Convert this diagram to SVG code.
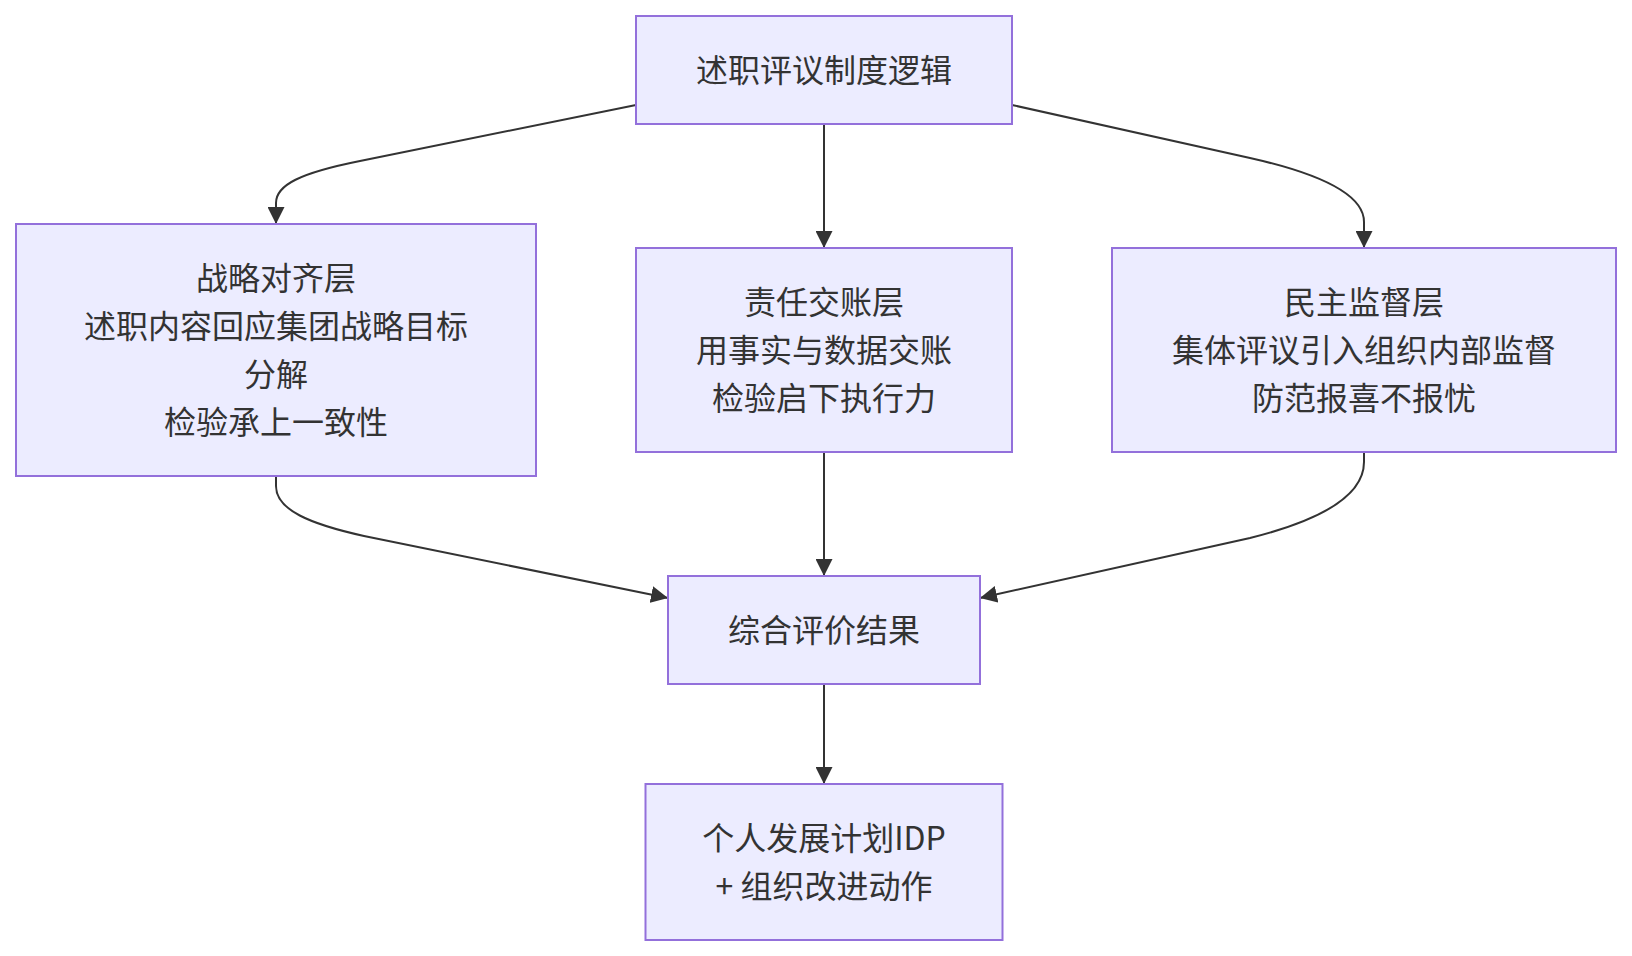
<svg xmlns="http://www.w3.org/2000/svg" width="1632" height="956" viewBox="0 0 1632 956">
<style>
.node rect{fill:#ECECFF;stroke:#9370DB;stroke-width:2}
.node text{font-family:"Noto Sans CJK SC","Noto Sans",sans-serif;font-size:32px;fill:#333333;text-anchor:middle;dominant-baseline:central}
.edges path{fill:none;stroke:#333333;stroke-width:2;marker-end:url(#arrow)}
</style>
<defs>
<marker id="arrow" viewBox="0 0 10 10" refX="10" refY="5" markerUnits="userSpaceOnUse" markerWidth="17" markerHeight="17" orient="auto">
<path d="M0,0 L10,5 L0,10 z" fill="#333333"/>
</marker>
</defs>
<rect width="1632" height="956" fill="#ffffff"/>
<g class="edges">
<path d="M636,105 L360,161 C300,173 276,185 276,203 L276,224"/>
<path d="M824,124 L824,248"/>
<path d="M1012,105 L1250,158 C1330,176 1364,198 1364,222 L1364,248"/>
<path d="M276,476 L276,486 C276,510 310,524 364,536 L668,598"/>
<path d="M824,452 L824,576"/>
<path d="M1364,452 L1364,462 C1364,500 1310,523 1250,538 L980,598"/>
<path d="M824,684 L824,784"/>
</g>
<g id="n_top" class="node">
<rect x="636" y="16" width="376" height="108"/>
<text x="824" y="68">述职评议制度逻辑</text>
</g>
<g id="n_left" class="node">
<rect x="16" y="224" width="520" height="252"/>
<text x="276" y="276">战略对齐层</text>
<text x="276" y="324">述职内容回应集团战略目标</text>
<text x="276" y="372">分解</text>
<text x="276" y="420">检验承上一致性</text>
</g>
<g id="n_mid" class="node">
<rect x="636" y="248" width="376" height="204"/>
<text x="824" y="300">责任交账层</text>
<text x="824" y="348">用事实与数据交账</text>
<text x="824" y="396">检验启下执行力</text>
</g>
<g id="n_right" class="node">
<rect x="1112" y="248" width="504" height="204"/>
<text x="1364" y="300">民主监督层</text>
<text x="1364" y="348">集体评议引入组织内部监督</text>
<text x="1364" y="396">防范报喜不报忧</text>
</g>
<g id="n_eval" class="node">
<rect x="668" y="576" width="312" height="108"/>
<text x="824" y="628">综合评价结果</text>
</g>
<g id="n_idp" class="node">
<rect x="645.5" y="784" width="357" height="156"/>
<text x="824" y="836">个人发展计划IDP</text>
<text x="824" y="884">+ 组织改进动作</text>
</g>
</svg>
